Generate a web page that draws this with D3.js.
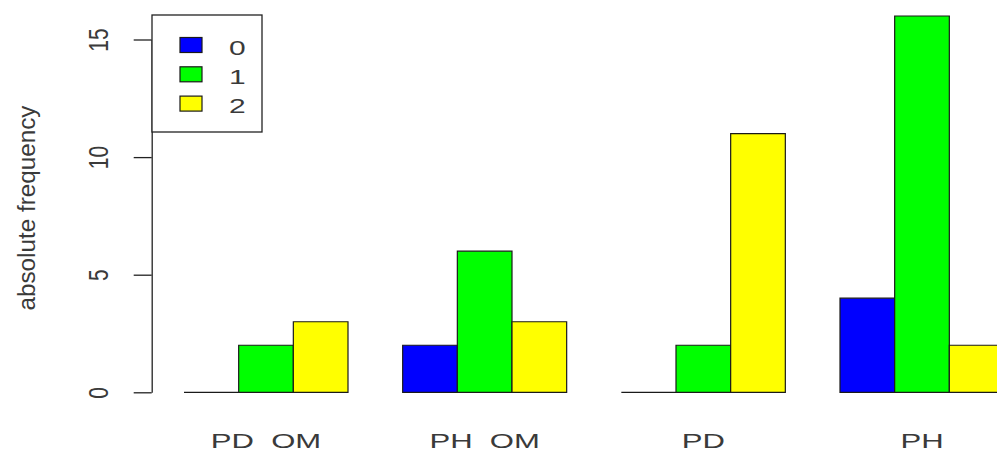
<!DOCTYPE html>
<html>
<head>
<meta charset="utf-8">
<script src="https://cdn.jsdelivr.net/npm/d3@7"></script>
<style>
  html, body { margin: 0; padding: 0; background: #ffffff; }
  svg { display: block; }
  text { font-family: "Liberation Sans", Arial, sans-serif; fill: #3a3a3a; }
</style>
</head>
<body>
<svg id="chart" width="997" height="452"></svg>
<script>
// ---- data ----
const categories = ["PD  OM", "PH  OM", "PD", "PH"];
const seriesNames = ["0", "1", "2"];
const series0 = [0, 2, 0, 4];
const series1 = [2, 6, 2, 16];
const series2 = [3, 3, 11, 2];
const yTickValues = [0, 5, 10, 15];
const yLabel = "absolute frequency";
const seriesColors = ["#0000FF", "#00FF00", "#FFFF00"];

const seriesValues = [series0, series1, series2];

// ---- layout ----
const svg = d3.select("#chart");

const x = d3.scaleBand()
  .domain(categories)
  .range([184, 1004])
  .paddingInner(0.25)
  .paddingOuter(0);

const xInner = d3.scaleBand()
  .domain(seriesNames)
  .range([0, x.bandwidth()])
  .padding(0);

const y = d3.scaleLinear()
  .domain([0, 15])
  .range([392.3, 39.5]);

// ---- bars ----
const barData = [];
categories.forEach((c, ci) => {
  seriesNames.forEach((s, si) => {
    barData.push({ cat: c, ser: s, value: seriesValues[si][ci], color: seriesColors[si] });
  });
});

svg.append("g").selectAll("path")
  .data(barData)
  .join("path")
  .attr("d", d => {
    const x0 = x(d.cat) + xInner(d.ser);
    const x1 = x0 + xInner.bandwidth();
    const y0 = y(0), y1 = y(d.value);
    return `M${x0},${y0}H${x1}V${y1}H${x0}Z`;
  })
  .attr("fill", d => d.color)
  .attr("stroke", "#1a1a1a")
  .attr("stroke-width", 1.2);

// ---- y axis ----
const axisG = svg.append("g")
  .attr("transform", "translate(151.7,0)")
  .call(d3.axisLeft(y).tickValues(yTickValues).tickSize(18).tickSizeOuter(0).tickFormat(d3.format("d")));

axisG.select(".domain").attr("stroke", "#222").attr("stroke-width", 1.3);
axisG.selectAll(".tick line").attr("stroke", "#222").attr("stroke-width", 1.3);
axisG.selectAll(".tick text")
  .attr("x", null)
  .attr("dy", null)
  .attr("fill", "#3a3a3a")
  .attr("font-size", 21)
  .attr("font-family", "Liberation Sans, Arial, sans-serif")
  .attr("text-anchor", "middle")
  .attr("transform", `translate(${107.5 - 151.7},0) scale(1.33,1) rotate(-90)`);

// y label
svg.append("text")
  .attr("transform", "translate(35,208) rotate(-90)")
  .attr("text-anchor", "middle")
  .attr("font-size", 23)
  .attr("textLength", 205)
  .attr("lengthAdjust", "spacingAndGlyphs")
  .text(yLabel);

// ---- group labels ----
svg.append("g").selectAll("text")
  .data(categories)
  .join("text")
  .attr("transform", d => `translate(${x(d) + x.bandwidth() / 2},447.5) scale(1.48,1)`)
  .attr("text-anchor", "middle")
  .attr("font-size", 21)
  .attr("xml:space", "preserve")
  .style("white-space", "pre")
  .text(d => d);

// ---- legend ----
const legend = svg.append("g");
legend.append("rect")
  .attr("x", 152).attr("y", 15)
  .attr("width", 110).attr("height", 117)
  .attr("fill", "#ffffff")
  .attr("stroke", "#222")
  .attr("stroke-width", 1.3);

const rows = legend.selectAll("g.row")
  .data(seriesNames)
  .join("g")
  .attr("class", "row");

rows.append("rect")
  .attr("x", 180)
  .attr("y", (d, i) => 37.5 + i * 29.3)
  .attr("width", 22)
  .attr("height", 15)
  .attr("fill", (d, i) => seriesColors[i])
  .attr("stroke", "#1a1a1a")
  .attr("stroke-width", 1.2);

rows.append("text")
  .attr("transform", (d, i) => `translate(229,${54.8 + i * 29}) scale(1.5,1)`)
  .attr("font-size", 20)
  .text(d => d);
</script>
</body>
</html>
